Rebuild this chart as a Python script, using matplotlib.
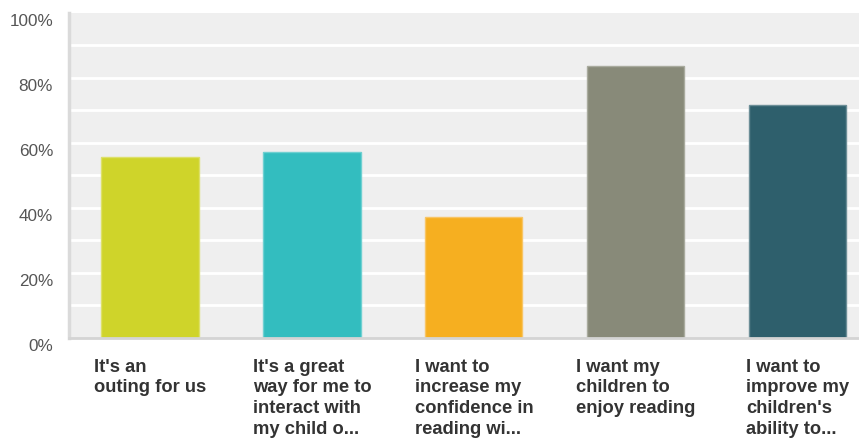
"""
Survey bar chart: reasons for attending (share of respondents).
"""

import matplotlib
matplotlib.use("Agg")  # no display
import matplotlib.pyplot as plt
from matplotlib.transforms import ScaledTranslation

# ============================================================================
# Data
# ============================================================================

categories = [
    "It's an\nouting for us",
    "It's a great\nway for me to\ninteract with\nmy child o...",
    "I want to\nincrease my\nconfidence in\nreading wi...",
    "I want my\nchildren to\nenjoy reading",
    "I want to\nimprove my\nchildren's\nability to...",
]
percent_values = [55.7, 57.2, 37.2, 83.8, 71.7]
bar_colors = ["#CFD42A", "#33BDBF", "#F6AF20", "#888A79", "#2E5F6C"]
edge_colors = ["#DDE06A", "#6FD0D1", "#F8C565", "#A9AB9E", "#6C8E97"]
y_ticks = [0, 20, 40, 60, 80, 100]
y_tick_labels = ["0%", "20%", "40%", "60%", "80%", "100%"]

# ============================================================================
# Figure
# ============================================================================

plt.rcParams["font.family"] = ["Liberation Sans", "DejaVu Sans"]

W, H, DPI = 859, 441, 100
fig = plt.figure(figsize=(W / DPI, H / DPI), dpi=DPI)
ax = fig.add_axes([69 / W, (H - 337.7) / H, (W - 69) / W, 324.7 / H])

ax.set_facecolor("#EFEFEF")

# white gridlines every 10%
for y in range(10, 100, 10):
    ax.axhline(y, color="white", linewidth=2.0, zorder=1)

x = range(len(categories))
ax.bar(x, percent_values, width=0.6, color=bar_colors,
       edgecolor=edge_colors, linewidth=1.0, zorder=2)

ax.set_xlim(-0.5, 4.378)
ax.set_ylim(0, 100)

for side in ("top", "right"):
    ax.spines[side].set_visible(False)
ax.spines["left"].set_color("#DADADA")
ax.spines["left"].set_linewidth(2.5)
ax.spines["bottom"].set_color("#D4D4D4")
ax.spines["bottom"].set_linewidth(2.0)

ax.set_yticks(y_ticks)
ax.set_yticklabels(y_tick_labels, fontsize=12.3, color="#555555")
ax.tick_params(axis="y", length=0, pad=11.5)
shift = ScaledTranslation(0, -7 / DPI, fig.dpi_scale_trans)
for lab in ax.get_yticklabels():
    lab.set_transform(lab.get_transform() + shift)

ax.set_xticks(list(x))
ax.set_xticklabels(categories, fontsize=13.2, fontweight="bold",
                   color="#333333", ha="center", multialignment="left",
                   linespacing=1.3)
ax.tick_params(axis="x", length=0, pad=15)

fig.savefig("out.png", dpi=DPI)
plt.close(fig)
